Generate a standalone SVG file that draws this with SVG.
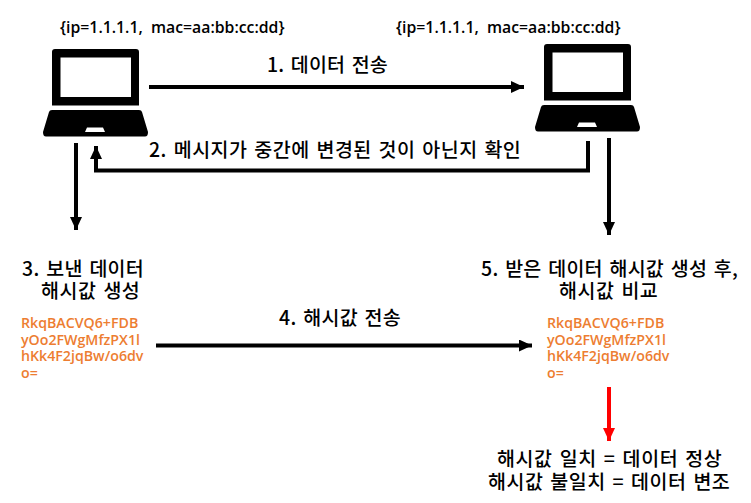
<svg xmlns="http://www.w3.org/2000/svg" width="751" height="503" viewBox="0 0 751 503">
<defs>
<marker id="ah" markerUnits="userSpaceOnUse" markerWidth="13" markerHeight="12" refX="13" refY="6" orient="auto"><path d="M0 0L13 6L0 12Z" fill="#000"/></marker>
<marker id="ar" markerUnits="userSpaceOnUse" markerWidth="13" markerHeight="12" refX="13" refY="6" orient="auto"><path d="M0 0L13 6L0 12Z" fill="#f00"/></marker>
<g id="laptop">
<path fill-rule="evenodd" d="M55 49H136Q139 49 139 52V105.500H52V52Q52 49 55 49ZM60.500 57.500V97H131V57.500Z" fill="#000"/>
<path fill-rule="evenodd" d="M52 110H139Q141.500 110 142 112L148 132Q148 136.500 145 136.500H46Q43 136.500 43 132L49 112Q49.500 110 52 110ZM87 127.500L85 132H105L103 127.500Z" fill="#000"/>
</g>
</defs>
<style>
.t{font-family:"Noto Sans CJK KR","Noto Sans",sans-serif;font-size:19.500px;font-weight:500;fill:#000;word-spacing:2px;letter-spacing:.2px}
.s{font-family:"Open Sans","Noto Sans",sans-serif;font-size:15.800px;font-weight:600;fill:#000;white-space:pre}
.h{font-family:"Open Sans","Noto Sans",sans-serif;font-size:14.200px;font-weight:600;fill:#ed7d31}
.c{fill:none;stroke:#000;stroke-width:4}
</style>
<g id="laptop-left"><use href="#laptop"/></g>
<g id="laptop-right"><use href="#laptop" x="492" y="-5"/></g>
<g id="connectors">
<path class="c" d="M149 87H524" marker-end="url(#ah)"/>
<path class="c" d="M588 141V170.500H96V146" marker-end="url(#ah)"/>
<path class="c" d="M76 143V230" marker-end="url(#ah)"/>
<path class="c" d="M609 138V235" marker-end="url(#ah)"/>
<path class="c" d="M156 345.500H532" marker-end="url(#ah)"/>
<path class="c" style="stroke:#f00" d="M609 387V441" marker-end="url(#ar)"/>
</g>
<g id="labels">
<text class="s" x="60" y="33">{ip=1.1.1.1,  mac=aa:bb:cc:dd}</text>
<text class="s" x="396" y="33">{ip=1.1.1.1,  mac=aa:bb:cc:dd}</text>
<text class="t" x="267" y="72" textLength="121">1. 데이터 전송</text>
<text class="t" x="149" y="157" textLength="372">2. 메시지가 중간에 변경된 것이 아닌지 확인</text>
<text class="t" x="22" y="276" textLength="122">3. 보낸 데이터</text>
<text class="t" x="41" y="298" textLength="99">해시값 생성</text>
<text class="t" x="279" y="325" textLength="122">4. 해시값 전송</text>
<text class="t" x="481" y="276" textLength="257">5. 받은 데이터 해시값 생성 후,</text>
<text class="t" x="559" y="298" textLength="99">해시값 비교</text>
<text class="t" x="497" y="466" textLength="225">해시값 일치 = 데이터 정상</text>
<text class="t" x="488" y="489" textLength="242">해시값 불일치 = 데이터 변조</text>
</g>
<g id="hash-left">
<text class="h" x="21" y="328">RkqBACVQ6+FDB</text>
<text class="h" x="21" y="345">yOo2FWgMfzPX1l</text>
<text class="h" x="21" y="361">hKk4F2jqBw/o6dv</text>
<text class="h" x="21" y="378">o=</text>
</g>
<g id="hash-right">
<text class="h" x="547" y="328">RkqBACVQ6+FDB</text>
<text class="h" x="547" y="345">yOo2FWgMfzPX1l</text>
<text class="h" x="547" y="361">hKk4F2jqBw/o6dv</text>
<text class="h" x="547" y="378">o=</text>
</g>
</svg>
